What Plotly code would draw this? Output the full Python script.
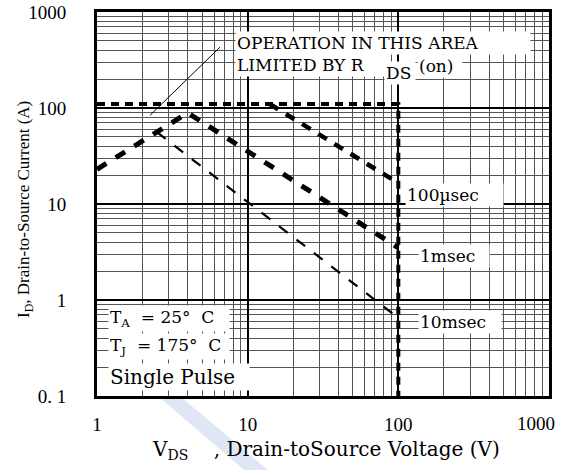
import plotly.graph_objects as go

# ---- data ----
limit_v = [1, 100, 100]          # RDS(on) limit line + BVdss vertical
limit_i = [110, 110, 0.1]
us100_v = [14, 100]              # 100 usec
us100_i = [110, 16.5]
ms1_v = [1, 4.0, 100]            # 1 msec
ms1_i = [23, 89, 3.5]
ms10_v = [2.5, 100]              # 10 msec
ms10_i = [56, 0.65]
leader_v = [2.25, 6.55]          # leader line of the note
leader_i = [84, 430]

x_ticks = [1, 10, 100, 1000]
x_ticktext = ["1", "10", "100", ""]
x_last_label = "1000"
y_ticks = [0.1, 1, 10, 100, 1000]
y_ticktext = ["0. 1", "1", "10", "100", "1000"]

W, H = 562, 470
L, R, T, B = 97, 549, 12, 396   # plot area in pixels


def px(x):
    return (x - L) / (R - L)


def py(y):
    return (B - y) / (B - T)


fig = go.Figure()
fig.add_trace(go.Scatter(x=limit_v, y=limit_i, mode="lines",
                         line=dict(color="black", width=4, dash="8px,6px")))
fig.add_trace(go.Scatter(x=us100_v, y=us100_i, mode="lines",
                         line=dict(color="black", width=4.5, dash="10px,9px")))
fig.add_trace(go.Scatter(x=ms1_v, y=ms1_i, mode="lines",
                         line=dict(color="black", width=5, dash="11px,11px")))
fig.add_trace(go.Scatter(x=ms10_v, y=ms10_i, mode="lines",
                         line=dict(color="black", width=2.2, dash="11px,11px")))
fig.add_trace(go.Scatter(x=leader_v, y=leader_i, mode="lines",
                         line=dict(color="black", width=1)))

minor_x = [m * 10 ** d for d in range(0, 3) for m in range(2, 10)]
minor_y = [m * 10 ** d for d in range(-1, 3) for m in range(2, 10)]

tickfont = dict(family="Liberation Serif", size=19, color="black")
fig.update_xaxes(type="log", range=[0, 3], automargin=False,
                 tickmode="array", tickvals=x_ticks, ticktext=x_ticktext,
                 showgrid=True, gridcolor="black", gridwidth=2,
                 minor=dict(tickmode="array", tickvals=minor_x, showgrid=True,
                            gridcolor="#555555", gridwidth=1, ticks=""),
                 showline=True, linecolor="black", linewidth=3, mirror=True,
                 ticks="", ticklabelstandoff=9, ticklabeloverflow="allow",
                 tickfont=tickfont, zeroline=False)
fig.update_yaxes(type="log", range=[-1, 3], automargin=False,
                 tickmode="array", tickvals=y_ticks, ticktext=y_ticktext,
                 showgrid=True, gridcolor="black", gridwidth=2,
                 minor=dict(tickmode="array", tickvals=minor_y, showgrid=True,
                            gridcolor="#555555", gridwidth=1, ticks=""),
                 showline=True, linecolor="black", linewidth=3, mirror=True,
                 ticks="inside", ticklen=17, tickwidth=2, tickcolor="black",
                 ticklabelstandoff=24, ticklabeloverflow="allow",
                 tickfont=tickfont, zeroline=False)

serif = dict(family="DejaVu Serif", size=17, color="black")
NB = "\u00a0"
ann = []


def box(text, x, y, width=None, font=serif, xanchor="left"):
    d = dict(text=text, xref="paper", yref="paper", x=px(x), y=py(y),
             xanchor=xanchor, yanchor="middle", showarrow=False,
             bgcolor="white", font=font, borderpad=1, align="left")
    if width:
        d["width"] = width
    ann.append(d)


box("OPERATION IN THIS AREA", 235, 43, width=292)
box("LIMITED BY R", 235, 65, width=148)
box("DS", 384, 73, width=28)
box("(on)", 417, 66, width=42)
box("100µsec", 405, 195, width=95)
box("1msec", 418, 256, width=68)
box("10msec", 418, 322, width=80)
box(f"T<sub>A</sub>{NB}{NB}={NB}25°{NB}{NB}C", 108, 318, width=118)
box(f"T<sub>J</sub>{NB}{NB}={NB}175°{NB}{NB}C", 108, 346, width=118)
box("Single Pulse", 108, 377, width=138,
    font=dict(family="DejaVu Serif", size=20, color="black"))

ann.append(dict(text=x_last_label, xref="paper", yref="paper",
                x=px(536), y=py(423), xanchor="center", yanchor="middle",
                showarrow=False, font=tickfont))
ann.append(dict(text="I<sub>D</sub>, Drain-to-Source Current (A)",
                xref="paper", yref="paper", x=px(25), y=py(210),
                xanchor="center", yanchor="middle", textangle=-90,
                showarrow=False,
                font=dict(family="Liberation Serif", size=17, color="black")))
ann.append(dict(text=f"V<sub>DS</sub>{NB}{NB}{NB}{NB},{NB}Drain-toSource Voltage (V)",
                xref="paper", yref="paper", x=px(150), y=py(450),
                xanchor="left", yanchor="middle", showarrow=False,
                font=dict(family="DejaVu Serif", size=20, color="black")))

shapes = [dict(type="path", xref="paper", yref="paper", layer="below",
               path=f"M {px(160)} {py(398)} L {px(182)} {py(398)} "
                    f"L {px(268)} {py(470)} L {px(244)} {py(470)} Z",
               fillcolor="#dfe7f6", line=dict(width=0))]

fig.update_layout(width=W, height=H, showlegend=False,
                  margin=dict(l=L, r=W - R, t=T, b=H - B),
                  plot_bgcolor="white", paper_bgcolor="white",
                  annotations=ann, shapes=shapes)

fig.write_html("out.html",
               config={"displayModeBar": False},
               post_script="document.body.style.margin='0';"
                           "document.body.style.overflow='hidden';")
